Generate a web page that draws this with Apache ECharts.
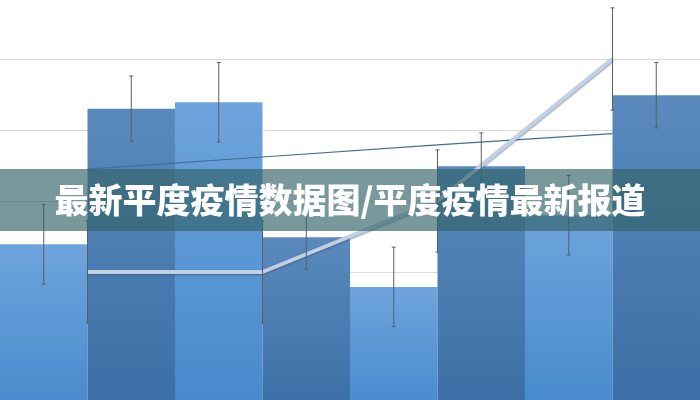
<!DOCTYPE html>
<html>
<head>
<meta charset="utf-8">
<script src="https://cdn.jsdelivr.net/npm/echarts@6/dist/echarts.min.js"></script>
<style>
html,body{margin:0;padding:0;background:#fff;overflow:hidden;width:700px;height:400px;}
#wrap{position:relative;width:700px;height:400px;overflow:hidden;}
#chart{position:absolute;left:0;top:-12px;width:700px;height:426px;}
</style>
</head>
<body>
<div id="wrap"><div id="chart"></div></div>
<script>
// ---- data ----
var barCategories = ['A1','A2','A3','A4','A5','A6','A7','A8'];
var barValues = [2.39, 4.30, 4.39, 2.49, 1.79, 3.49, 2.80, 4.49];
var barErrors = [0.56, 0.46, 0.56, 0.45, 0.56, 0.47, 0.56, 0.46];
var lineCategories = ['B1','B2','B3','B4'];
var thickLineValues = [2.0, 2.0, 3.0, 5.0];
var thickLineErrors = [0.72, 0.72, 0.72, 0.72];
var thinLineValues = [3.45, 3.62, 3.79, 3.95];
var yTicks = [0, 1, 2, 3, 4, 5, 6];
var titleText = '最新平度疫情数据图/平度疫情最新报道';

var lightGrad = new echarts.graphic.LinearGradient(0,0,0,1,[{offset:0,color:'#6ea4dc'},{offset:1,color:'#4689cc'}]);
var darkGrad = new echarts.graphic.LinearGradient(0,0,0,1,[{offset:0,color:'#5a8abd'},{offset:1,color:'#3a6ea4'}]);

var barData = barValues.map(function(v,i){
  return {value:v, itemStyle:{color: i%2===0 ? lightGrad : darkGrad}};
});
var barErrData = barValues.map(function(v,i){ return [i, v-barErrors[i], v+barErrors[i]]; });
var lineErrData = thickLineValues.map(function(v,i){ return [i, v-thickLineErrors[i], v+thickLineErrors[i]]; });

function errRender(params, api){
  var x = api.value(0);
  var lo = api.coord([x, api.value(1)]);
  var hi = api.coord([x, api.value(2)]);
  var cap = 2;
  var st = {stroke:'#5a5f66', lineWidth:1};
  return {type:'group', children:[
    {type:'line', shape:{x1:lo[0],y1:lo[1],x2:hi[0],y2:hi[1]}, style:st},
    {type:'line', shape:{x1:lo[0]-cap,y1:lo[1],x2:lo[0]+cap,y2:lo[1]}, style:st},
    {type:'line', shape:{x1:hi[0]-cap,y1:hi[1],x2:hi[0]+cap,y2:hi[1]}, style:st}
  ]};
}

var chart = echarts.init(document.getElementById('chart'));
chart.setOption({
  animation:false,
  grid:{left:0,right:0,top:0,bottom:0,containLabel:false},
  xAxis:[
    {type:'category', data:barCategories, show:false, boundaryGap:true},
    {type:'category', data:lineCategories, show:false, boundaryGap:true}
  ],
  yAxis:{type:'value', min:yTicks[0], max:yTicks[yTicks.length-1], interval:1,
    axisLine:{show:false}, axisTick:{show:false}, axisLabel:{show:false},
    splitLine:{lineStyle:{color:'#dadada', width:1}}},
  series:[
    {type:'bar', xAxisIndex:0, data:barData, barCategoryGap:'0%', barGap:'0%', z:2},
    {type:'line', xAxisIndex:1, data:thinLineValues, symbol:'none',
      lineStyle:{color:'#3f6f98', width:1.2}, z:3},
    {type:'line', xAxisIndex:1, data:thickLineValues, symbol:'none',
      lineStyle:{color:'#c2d0e3', width:4, shadowColor:'rgba(50,70,100,0.6)', shadowBlur:2, shadowOffsetY:1}, z:4},
    {type:'custom', xAxisIndex:0, data:barErrData, renderItem:errRender, encode:{x:0,y:[1,2]}, z:5},
    {type:'custom', xAxisIndex:1, data:lineErrData, renderItem:errRender, encode:{x:0,y:[1,2]}, z:5}
  ],
  graphic:[
    {type:'rect', left:0, top:181, shape:{width:700, height:62}, style:{fill:'rgba(50,98,104,0.66)'}, z:100},
    {type:'text', left:'center', top:195, style:{text:titleText, fill:'#ffffff',
      font:'900 34px "Noto Sans CJK SC", sans-serif'}, z:101}
  ]
});
</script>
</body>
</html>
